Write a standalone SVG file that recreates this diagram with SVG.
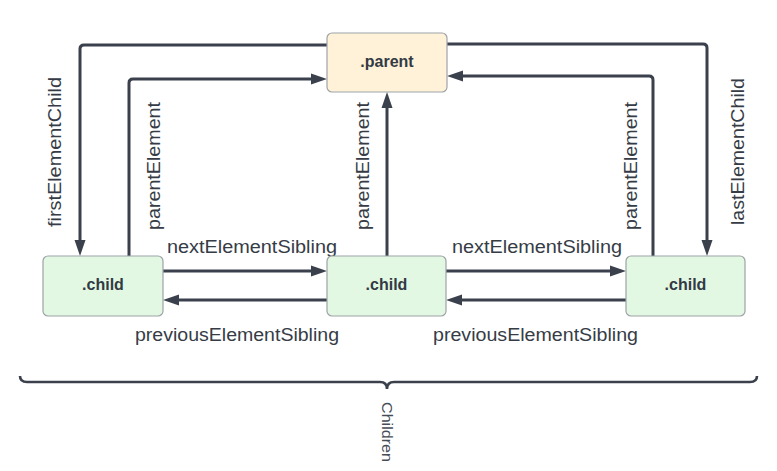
<svg xmlns="http://www.w3.org/2000/svg" width="777" height="471" viewBox="0 0 777 471">
<defs>
<style>
.box{stroke:#9ea3a8;stroke-width:1.2}
.parent{fill:#fff2d9}
.child{fill:#e3f8e3}
.nl{font-family:"Liberation Sans",Arial,sans-serif;font-weight:bold;font-size:16px;fill:#333a44;text-anchor:middle}
.lbl{font-family:"Liberation Sans",Arial,sans-serif;font-size:18px;fill:#363c46;text-anchor:middle}
.con{fill:none;stroke:#3a414c;stroke-width:3;marker-end:url(#ah)}
</style>
<marker id="ah" markerUnits="userSpaceOnUse" markerWidth="16" markerHeight="12" refX="6" refY="6" orient="auto">
<path d="M0,0.5 L16,6 L0,11.5 z" fill="#3a414c"/>
</marker>
</defs>
<rect width="777" height="471" fill="#ffffff"/>
<g id="connectors">
<path class="con" d="M327,45 H84 Q80,45 80,49 V246"/>
<path class="con" d="M129,256 V83 Q129,79 133,79 H317"/>
<path class="con" d="M447,44 H703 Q707,44 707,48 V246"/>
<path class="con" d="M653,256 V80 Q653,76 649,76 H457"/>
<path class="con" d="M387,256 V102"/>
<path class="con" d="M163,271 H317"/>
<path class="con" d="M327,300 H173"/>
<path class="con" d="M446,271 H616"/>
<path class="con" d="M626,300 H456"/>
</g>
<g id="labels">
<text class="lbl" transform="translate(61,152) rotate(-90)" textLength="150" lengthAdjust="spacingAndGlyphs">firstElementChild</text>
<text class="lbl" transform="translate(160,166) rotate(-90)" textLength="128" lengthAdjust="spacingAndGlyphs">parentElement</text>
<text class="lbl" transform="translate(369,166) rotate(-90)" textLength="128" lengthAdjust="spacingAndGlyphs">parentElement</text>
<text class="lbl" transform="translate(637,166) rotate(-90)" textLength="128" lengthAdjust="spacingAndGlyphs">parentElement</text>
<text class="lbl" transform="translate(744,151.5) rotate(-90)" textLength="147" lengthAdjust="spacingAndGlyphs">lastElementChild</text>
<text class="lbl" x="252" y="253" textLength="170" lengthAdjust="spacingAndGlyphs">nextElementSibling</text>
<text class="lbl" x="537" y="253" textLength="170" lengthAdjust="spacingAndGlyphs">nextElementSibling</text>
<text class="lbl" x="237" y="341" textLength="204" lengthAdjust="spacingAndGlyphs">previousElementSibling</text>
<text class="lbl" x="535.5" y="341" textLength="205" lengthAdjust="spacingAndGlyphs">previousElementSibling</text>
</g>
<g id="parent">
<rect class="box parent" x="327" y="33" width="120" height="59" rx="5"/>
<text class="nl" x="387" y="67">.parent</text>
</g>
<g id="child1">
<rect class="box child" x="43" y="256" width="120" height="60" rx="5"/>
<text class="nl" x="103" y="290">.child</text>
</g>
<g id="child2">
<rect class="box child" x="327" y="256" width="119" height="60" rx="5"/>
<text class="nl" x="386.5" y="290">.child</text>
</g>
<g id="child3">
<rect class="box child" x="626" y="256" width="119" height="60" rx="5"/>
<text class="nl" x="685.5" y="290">.child</text>
</g>
<g id="children-brace">
<path d="M20,376 Q20,382 27,382 H380 Q387,382 387,389 Q387,382 394,382 H750 Q757,382 757,376" fill="none" stroke="#3a414c" stroke-width="2.6"/>
<text transform="translate(382,432) rotate(90)" font-family="'Liberation Sans',Arial,sans-serif" font-size="15" fill="#474d56" text-anchor="middle" textLength="60" lengthAdjust="spacingAndGlyphs">Children</text>
</g>
</svg>
